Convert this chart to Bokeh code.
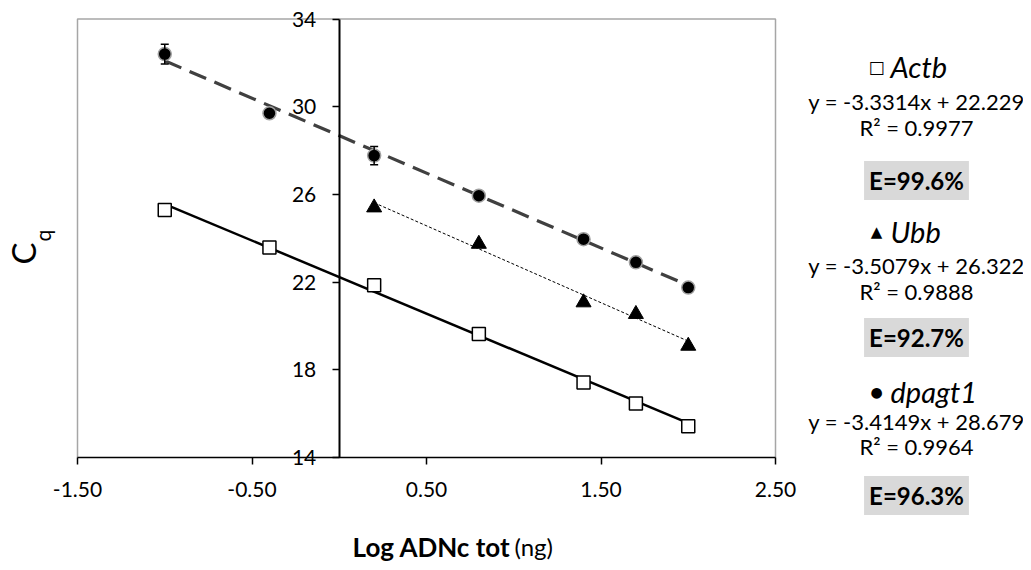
import math
import numpy as np
from bokeh.plotting import figure
from bokeh.models import (Range1d, LinearAxis, FixedTicker, Label, Whisker,
                          ColumnDataSource, TeeHead, NumeralTickFormatter)
from bokeh.embed import file_html
from bokeh.resources import INLINE

# ---------------- data ----------------
actb_x = [-1.0, -0.4, 0.2, 0.8, 1.4, 1.7, 2.0]
actb_y = [25.29, 23.58, 21.86, 19.63, 17.42, 16.46, 15.42]

ubb_x = [0.2, 0.8, 1.4, 1.7, 2.0]
ubb_y = [25.40, 23.74, 21.07, 20.54, 19.09]

dpagt1_x = [-1.0, -0.4, 0.2, 0.8, 1.4, 1.7, 2.0]
dpagt1_y = [32.40, 29.70, 27.77, 25.94, 23.96, 22.90, 21.75]
dpagt1_err = [0.45, 0.0, 0.42, 0.0, 0.0, 0.0, 0.0]

# trend lines (regression equations shown on the chart)
slopes = [-3.3314, -3.5079, -3.4149]
intercepts = [22.229, 26.322, 28.679]
r2_values = ["0.9977", "0.9888", "0.9964"]
efficiencies = ["99.6%", "92.7%", "96.3%"]
gene_names = ["Actb", "Ubb", "dpagt1"]
gene_symbols = ["\u25a1", "\u25b2", "\u25cf"]

x_ticks = [-1.5, -0.5, 0.5, 1.5, 2.5]
y_ticks = [14, 18, 22, 26, 30, 34]

X0, X1 = -1.5, 2.5
Y0, Y1 = 14, 34

# canvas size and plot-area position in pixels
W, H = 1023, 562
FL, FR, FT, FB = 77, 775, 18.5, 457


def dx(px):
    return X0 + (px - FL) * (X1 - X0) / (FR - FL)


def dy(py):
    return Y1 - (py - FT) * (Y1 - Y0) / (FB - FT)


FONT = "Lato"

p = figure(width=W, height=H,
           x_range=Range1d(dx(0), dx(W)), y_range=Range1d(dy(H), dy(0)),
           output_backend="svg", toolbar_location=None,
           x_axis_type=None, y_axis_type=None,
           min_border_left=0, min_border_right=0,
           min_border_top=0, min_border_bottom=0)
p.outline_line_color = None
p.background_fill_color = "white"
p.border_fill_color = "white"

# gray plot-area border (left, top, right)
p.line([X0, X0, X1, X1], [Y0, Y1, Y1, Y0], line_color="#a6a6a6", line_width=1.5)

xaxis = LinearAxis(ticker=FixedTicker(ticks=x_ticks), fixed_location=Y0,
                   bounds=(X0, X1),
                   formatter=NumeralTickFormatter(format="0.00"))
xaxis.axis_line_color = "black"
xaxis.axis_line_width = 1.5
xaxis.major_tick_line_color = "black"
xaxis.major_tick_line_width = 1.5
xaxis.major_tick_out = 7
xaxis.major_tick_in = 0
xaxis.minor_tick_line_color = None
xaxis.major_label_text_font = FONT
xaxis.major_label_text_font_size = "21px"
xaxis.major_label_text_color = "black"
xaxis.major_label_standoff = 17
p.add_layout(xaxis, "below")

yaxis = LinearAxis(ticker=FixedTicker(ticks=y_ticks), fixed_location=0,
                   bounds=(Y0, Y1))
yaxis.axis_line_color = "black"
yaxis.axis_line_width = 2
yaxis.major_tick_line_color = "black"
yaxis.major_tick_line_width = 1.5
yaxis.major_tick_out = 7
yaxis.major_tick_in = 0
yaxis.minor_tick_line_color = None
yaxis.major_label_text_font = FONT
yaxis.major_label_text_font_size = "21px"
yaxis.major_label_text_color = "black"
yaxis.major_label_standoff = 16
p.add_layout(yaxis, "left")

# ---------------- trend lines ----------------
xs_sets = [actb_x, ubb_x, dpagt1_x]
styles = [dict(line_color="black", line_width=2.5, line_dash="solid"),
          dict(line_color="black", line_width=1, line_dash="3 2"),
          dict(line_color="#404040", line_width=3.2, line_dash="18 9")]
for xs, m, b, st in zip(xs_sets, slopes, intercepts, styles):
    lx = np.array([min(xs), max(xs)])
    p.line(lx, m * lx + b, **st)

# ---------------- error bars ----------------
ex = [x for x, e in zip(dpagt1_x, dpagt1_err) if e > 0]
ey = [y for y, e in zip(dpagt1_y, dpagt1_err) if e > 0]
ee = [e for e in dpagt1_err if e > 0]
err_src = ColumnDataSource(dict(x=ex, upper=[y + e for y, e in zip(ey, ee)],
                                lower=[y - e for y, e in zip(ey, ee)]))
p.add_layout(Whisker(base="x", upper="upper", lower="lower", source=err_src,
                     line_color="black", line_width=1.5, level="glyph",
                     upper_head=TeeHead(size=8, line_width=1.5, line_color="black"),
                     lower_head=TeeHead(size=8, line_width=1.5, line_color="black")))

# ---------------- markers ----------------
p.scatter(dpagt1_x, dpagt1_y, marker="circle", size=13,
          fill_color="black", line_color="#a0a0a0", line_width=1.5)
p.scatter(ubb_x, ubb_y, marker="triangle", size=15,
          fill_color="black", line_color="black", line_width=1)
p.scatter(actb_x, actb_y, marker="square", size=13,
          fill_color="white", line_color="black", line_width=1.5)

# ---------------- axis titles ----------------
p.add_layout(Label(x=dx(22), y=dy(253), text="C", angle=math.pi / 2,
                   text_font=FONT, text_font_size="33px", text_color="black",
                   text_align="center", text_baseline="middle"))
p.add_layout(Label(x=dx(42), y=dy(235), text="q", angle=math.pi / 2,
                   text_font=FONT, text_font_size="21px", text_color="black",
                   text_align="center", text_baseline="middle"))

p.add_layout(Label(x=dx(510), y=dy(546), text="Log ADNc tot",
                   text_font=FONT, text_font_size="26px", text_font_style="bold",
                   text_color="black", text_align="right", text_baseline="middle"))
p.add_layout(Label(x=dx(514), y=dy(546), text="(ng)",
                   text_font=FONT, text_font_size="24px",
                   text_color="black", text_align="left", text_baseline="middle"))

# ---------------- right-side equations ----------------
label_y = [66, 231, 391]
eq_y = [101, 265, 421]
r2_y = [127, 291, 446]
e_y = [180, 337, 495]
sym_sizes = ["17px", "15px", "14px"]
CX = 916
for i in range(3):
    p.add_layout(Label(x=dx(876), y=dy(label_y[i]), text=gene_symbols[i],
                       text_font="DejaVu Sans", text_font_size=sym_sizes[i],
                       text_color="black", text_align="center", text_baseline="middle"))
    p.add_layout(Label(x=dx(890), y=dy(label_y[i]), text=gene_names[i],
                       text_font=FONT, text_font_size="29px", text_font_style="italic",
                       text_color="black", text_align="left", text_baseline="middle"))
    sign = "-" if slopes[i] < 0 else ""
    eq = f"y = {sign}{abs(slopes[i]):.4f}x + {intercepts[i]:.3f}"
    p.add_layout(Label(x=dx(CX), y=dy(eq_y[i]), text=eq,
                       text_font=FONT, text_font_size="22px",
                       text_color="black", text_align="center", text_baseline="middle"))
    p.add_layout(Label(x=dx(CX), y=dy(r2_y[i]), text=f"R\u00b2 = {r2_values[i]}",
                       text_font=FONT, text_font_size="22px",
                       text_color="black", text_align="center", text_baseline="middle"))
    p.add_layout(Label(x=dx(CX), y=dy(e_y[i]), text=f"E={efficiencies[i]}",
                       text_font=FONT, text_font_size="24px", text_font_style="bold",
                       text_color="black", text_align="center", text_baseline="middle",
                       background_fill_color="#d9d9d9", padding=5))

open("out.html", "w").write(file_html(p, INLINE))
